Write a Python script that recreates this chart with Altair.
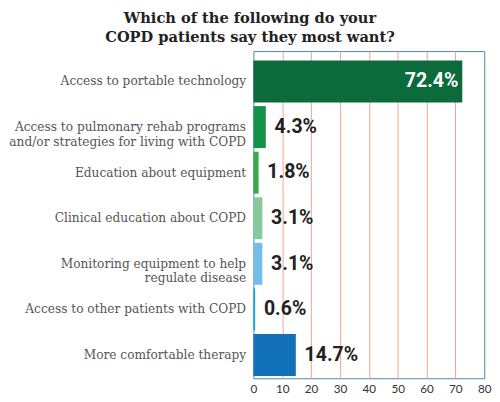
import altair as alt
import pandas as pd

categories = [
    "Access to portable technology",
    "Access to pulmonary rehab programs|and/or strategies for living with COPD",
    "Education about equipment",
    "Clinical education about COPD",
    "Monitoring equipment to help|regulate disease",
    "Access to other patients with COPD",
    "More comfortable therapy",
]
values = [72.4, 4.3, 1.8, 3.1, 3.1, 0.6, 14.7]
colors = ["#0b6b3a", "#13924a", "#3aaa48", "#88c99b", "#74bde8", "#12a5e0", "#1271b8"]
x_ticks = [0, 10, 20, 30, 40, 50, 60, 70, 80]

df = pd.DataFrame({"cat": categories, "val": values, "color": colors})
df["label"] = df["val"].map(lambda v: f"{v:.1f}%")

y = alt.Y("cat:N", sort=categories, title=None,
          scale=alt.Scale(paddingInner=0.08, paddingOuter=0.13, align=0.8),
          axis=alt.Axis(labelExpr="split(datum.label, '|')", labelFont="DejaVu Serif",
                        labelFontSize=12.5, labelColor="#555555", labelPadding=8,
                        labelLineHeight=15, ticks=False, domain=False, labelLimit=260))
x = alt.X("val:Q", title=None,
          scale=alt.Scale(domain=[0, 80], nice=False),
          axis=alt.Axis(values=x_ticks, labelFont="Lato", labelFontSize=12, labelColor="#333333",
                        labelPadding=6, ticks=False, domain=False, labelOverlap=False, labelFlush=False,
                        gridColor="#f4a08e", gridWidth=1,
                        gridOpacity={"condition": {"test": "datum.value == 0 || datum.value == 80", "value": 0}, "value": 1}))

base = alt.Chart(df).encode(x=x, y=y)
bars = base.mark_bar(stroke=None).encode(color=alt.Color("color:N", scale=None))
txt_out = base.transform_filter("datum.val < 50").mark_text(
    align="left", baseline="middle", dx=9, font="Roboto", fontWeight="bold", fontSize=20, color="#222222"
).encode(text="label:N")
txt_in = base.transform_filter("datum.val >= 50").mark_text(
    align="right", baseline="middle", dx=-4, font="Roboto", fontWeight="bold", fontSize=20, color="white"
).encode(text="label:N")

chart = (bars + txt_out + txt_in).properties(
    width=237, height=336,
    autosize=alt.AutoSizeParams(type="none"),
    padding={"left": 252, "top": 39, "right": 8, "bottom": 14},
    title=alt.TitleParams(
        ["Which of the following do your", "COPD patients say they most want?"],
        font="DejaVu Serif", fontWeight="bold", fontSize=15, color="#222222",
        anchor="middle", dx=-122, offset=4, dy=-2, lineHeight=20, frame="group",
    ),
).configure_view(stroke="#4a86b0", strokeWidth=1)

chart.save("out.html", embed_options={"renderer": "svg", "actions": False})
